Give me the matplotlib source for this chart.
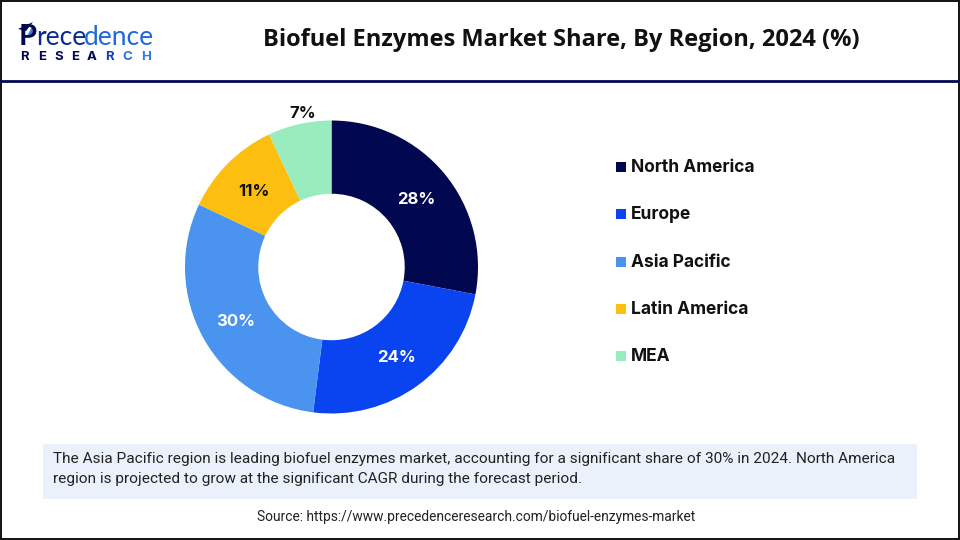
# biofuel enzymes market share donut

import numpy as np
import matplotlib.pyplot as plt
from matplotlib.patches import Rectangle, Polygon

regions = ["North America", "Europe", "Asia Pacific", "Latin America", "MEA"]
shares = [28, 24, 30, 11, 7]
colors = ["#02084f", "#0a44f0", "#4a93ee", "#fdbf0f", "#98ecbe"]
share_labels = ["28%", "24%", "30%", "11%", "7%"]

title = "Biofuel Enzymes Market Share, By Region, 2024 (%)"
note_lines = [
    "The Asia Pacific region is leading biofuel enzymes market, accounting for a significant share of 30% in 2024. North America",
    "region is projected to grow at the significant CAGR during the forecast period.",
]
source = "Source: https://www.precedenceresearch.com/biofuel-enzymes-market"

W, H = 960, 540
fig = plt.figure(figsize=(W / 100, H / 100), dpi=100, facecolor="white")

# overlay in pixel coordinates, y going down
bg = fig.add_axes([0, 0, 1, 1])
bg.set_xlim(0, W)
bg.set_ylim(H, 0)
bg.axis("off")

# frame and header rule
bg.add_patch(Rectangle((0.5, 0.5), W - 1.5, H - 1.5, fill=False, ec="#111111", lw=1.4))
bg.plot([0, W], [80.5, 80.5], color="#02084f", lw=2)

# logo
bg.text(19, 45, "P", fontsize=21, fontweight="bold", family="Lato", color="#02084f", ha="left", va="baseline")
bg.add_patch(Polygon([[18, 29], [33, 22], [26, 31]], color="#02084f", lw=0))
bg.add_patch(Polygon([[26, 38], [33, 25], [32, 37]], color="#3a7fe0", lw=0))
bg.text(36, 45, "rece", fontsize=19, family="Lato", color="#0a2a90", ha="left", va="baseline")
bg.text(84, 45, "dence", fontsize=19, family="Lato", color="#1f68dc", ha="left", va="baseline")
logo_x = [20, 38, 54, 71, 87, 105, 122, 141]
logo_c = ["#02084f"] * 5 + ["#0f3fb0", "#2570e0", "#2f80e8"]
for x, ch, c in zip(logo_x, "RESEARCH", logo_c):
    bg.text(x, 59.5, ch, fontsize=9.5, fontweight="bold", family="Inter", color=c, ha="left", va="baseline")

bg.text(561, 40, title, fontsize=17, fontweight="bold", family="Open Sans", color="#111111", ha="center", va="center")

# note box and source
bg.add_patch(Rectangle((43, 444), 874, 55, color="#eaf1fb", lw=0))
bg.text(53, 458.5, note_lines[0], fontsize=11.07, family="Roboto", color="#222222", va="center")
bg.text(53, 479.5, note_lines[1], fontsize=11.07, family="Roboto", color="#222222", va="center")
bg.text(476, 517.5, source, fontsize=9.9, family="Roboto", color="#222222", ha="center", va="center")

# legend
legend_y = [167, 214, 262, 309, 356]
for y, name, c in zip(legend_y, regions, colors):
    bg.add_patch(Rectangle((616, y - 5), 10, 10, color=c, lw=0))
    bg.text(631, y + 0.5, name, fontsize=12.5, fontweight="bold", family="Inter", color="#111111", va="center")

# donut, centre (331.5, 267) radius 146.5 px
ax = fig.add_axes([185 / W, 1 - 413.5 / H, 293 / W, 293 / H])
wedges, _ = ax.pie(shares, colors=colors, startangle=90, counterclock=False, radius=1,
                   wedgeprops={"width": 0.5, "linewidth": 0})
ax.set_xlim(-1, 1)
ax.set_ylim(-1, 1)

for w, lab in zip(wedges, share_labels):
    ang = np.deg2rad((w.theta1 + w.theta2) / 2)
    r = 1.09 if lab == "7%" else 0.75
    dx = 0.04 if lab == "7%" else 0
    tc = "#111111" if lab in ("11%", "7%") else "white"
    ax.text(r * np.cos(ang) + dx, r * np.sin(ang) - 0.014, lab, fontsize=12, fontweight="bold",
            family="Inter", color=tc, ha="center", va="center", clip_on=False)

fig.savefig("out.png", dpi=100)
plt.close(fig)
